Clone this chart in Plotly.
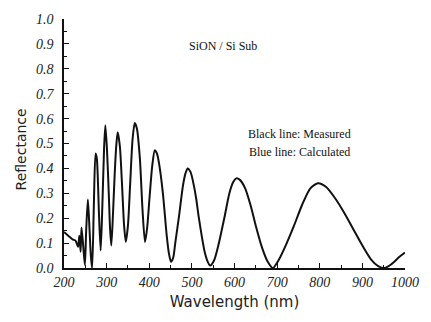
import plotly.graph_objects as go

# Reflectance spectrum of a SiON film on a Si substrate
wavelength_nm = [200, 210, 220, 227, 233, 236, 239, 241, 245, 249, 252, 256, 260, 263, 266,
                 270, 274, 277, 282, 286, 290, 294, 297, 301, 305, 308, 311, 315, 319, 323, 326,
                 331, 336, 341, 345, 350, 355, 361, 366, 371, 378, 384, 390, 395, 401, 407, 413,
                 418, 423, 432, 441, 446, 451, 456, 461, 470, 479, 485, 490, 497, 503, 510, 516,
                 523, 530, 536, 543, 552, 562, 576, 588, 597, 604, 612, 625, 638, 651, 665, 678,
                 690, 703, 720, 738, 759, 778, 796, 815, 836, 858, 879, 900, 920, 937, 952, 968,
                 987, 1000]
reflectance = [0.145, 0.13, 0.115, 0.11, 0.085, 0.13, 0.065, 0.163, 0.09, 0.012, 0.15, 0.275, 0.15, 0.05, 0.0,
               0.25, 0.46, 0.44, 0.22, 0.07, 0.25, 0.48, 0.573, 0.47, 0.30, 0.16, 0.09, 0.22, 0.38, 0.50, 0.545,
               0.49, 0.34, 0.17, 0.105, 0.17, 0.33, 0.52, 0.582, 0.56, 0.44, 0.24, 0.104, 0.16, 0.29, 0.41, 0.473,
               0.46, 0.42, 0.30, 0.13, 0.06, 0.025, 0.04, 0.10, 0.21, 0.33, 0.38, 0.40, 0.385, 0.345, 0.28, 0.205,
               0.13, 0.065, 0.03, 0.01, 0.03, 0.09, 0.20, 0.30, 0.345, 0.36, 0.355, 0.32, 0.25, 0.163, 0.08, 0.025,
               0.0, 0.03, 0.09, 0.163, 0.255, 0.32, 0.34, 0.325, 0.28, 0.22, 0.155, 0.09, 0.035, 0.008, 0.0, 0.015,
               0.045, 0.062]

x_ticks = [200, 300, 400, 500, 600, 700, 800, 900, 1000]
y_ticks = [0.0, 0.1, 0.2, 0.3, 0.4, 0.5, 0.6, 0.7, 0.8, 0.9, 1.0]

fig = go.Figure()
fig.add_trace(go.Scatter(
    x=wavelength_nm, y=reflectance, mode="lines",
    line=dict(color="#111111", width=2.0, shape="spline", smoothing=0.7),
    showlegend=False, hoverinfo="skip",
))

tick_font = dict(family="Liberation Serif", size=14, color="#222", style="italic")
axis_common = dict(
    showline=True, linecolor="#111", linewidth=1.5, mirror=False,
    ticks="inside", ticklen=5, tickwidth=1.3, tickcolor="#111",
    showgrid=False, zeroline=False, tickfont=tick_font,
    minor=dict(ticks="inside", ticklen=3, tickwidth=1.1, tickcolor="#111", showgrid=False),
)

fig.update_layout(
    width=431, height=322,
    margin=dict(l=64, r=22, t=15, b=54),
    paper_bgcolor="white", plot_bgcolor="white",
    xaxis=dict(range=[200, 1000], tickvals=x_ticks, ticktext=[str(v) for v in x_ticks],
               title=dict(text="Wavelength (nm)", font=dict(family="DejaVu Sans", size=15, color="#222"),
                          standoff=8),
               **axis_common),
    yaxis=dict(range=[0, 1.0], tickvals=y_ticks, ticktext=[f"{v:.1f}" for v in y_ticks],
               ticklabelstandoff=6, **axis_common),
    annotations=[
        dict(x=20, y=148, xref="paper", yref="paper", text="Reflectance", showarrow=False,
             textangle=-90, xanchor="center", yanchor="middle",
             font=dict(family="DejaVu Sans", size=14, color="#222")),
        dict(x=573, y=0.893, xref="x", yref="y", text="SiON / Si Sub", showarrow=False,
             font=dict(family="Liberation Serif", size=12, color="#111")),
        dict(x=752, y=0.538, xref="x", yref="y", text="Black line: Measured", showarrow=False,
             font=dict(family="Liberation Serif", size=12, color="#111")),
        dict(x=752, y=0.466, xref="x", yref="y", text="Blue line: Calculated", showarrow=False,
             font=dict(family="Liberation Serif", size=12, color="#111")),
    ],
)

# place the rotated y title in pixel terms relative to the plot area
plot_w = 431 - 64 - 22
plot_h = 322 - 15 - 54
fig.layout.annotations[0].x = (20 - 64) / plot_w
fig.layout.annotations[0].y = (268 - 148) / plot_h

fig.write_html("out.html")
